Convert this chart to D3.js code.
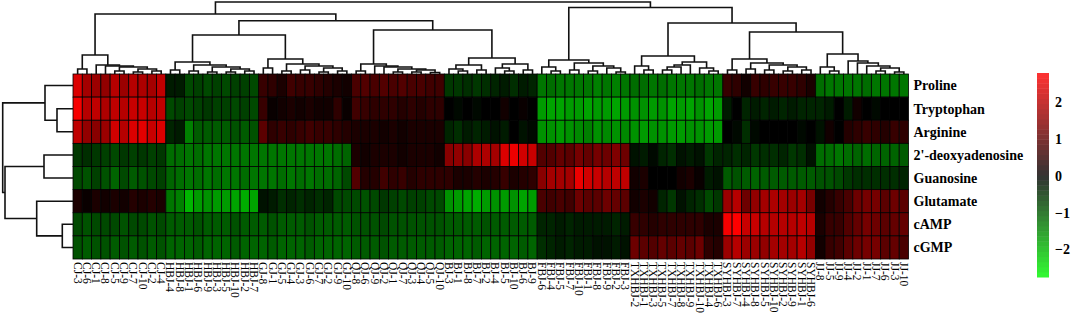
<!DOCTYPE html>
<html>
<head>
<meta charset="utf-8">
<script src="https://cdn.jsdelivr.net/npm/d3@7"></script>
<style>
  body { margin: 0; background: #fff; }
  svg { display: block; font-family: "Liberation Serif", "Times New Roman", serif; }
</style>
</head>
<body>
<div id="chart"></div>
<script>
// Clustered heatmap of metabolites across samples

const metabolites = ["Proline", "Tryptophan", "Arginine", "2'-deoxyadenosine", "Guanosine", "Glutamate", "cAMP", "cGMP"];

const samples = [
  "CJ-3", "CJ-6", "CJ-1", "CJ-8", "CJ-5", "CJ-9", "CJ-7", "CJ-10", "CJ-2", "CJ-4",
  "HBJ-4", "HBJ-8", "HBJ-1", "HBJ-6", "HBJ-9", "HBJ-3", "HBJ-5", "HBJ-10", "HBJ-2", "HBJ-7",
  "GJ-8", "GJ-1", "GJ-5", "GJ-4", "GJ-3", "GJ-6", "GJ-7", "GJ-2", "GJ-9", "GJ-10",
  "QJ-8", "QJ-6", "QJ-9", "QJ-2", "QJ-1", "QJ-7", "QJ-3", "QJ-4", "QJ-5", "QJ-10",
  "BJ-3", "BJ-1", "BJ-8", "BJ-7", "BJ-2", "BJ-4", "BJ-5", "BJ-10", "BJ-6", "BJ-9",
  "FBJ-6", "FBJ-4", "FBJ-5", "FBJ-7", "FBJ-10", "FBJ-1", "FBJ-8", "FBJ-9", "FBJ-2", "FBJ-3",
  "TXHBJ-2", "TXHBJ-1", "TXHBJ-3", "TXHBJ-5", "TXHBJ-7", "TXHBJ-8", "TXHBJ-9", "TXHBJ-10", "TXHBJ-4", "TXHBJ-6",
  "SYHBJ-3", "SYHBJ-7", "SYHBJ-4", "SYHBJ-8", "SYHBJ-5", "SYHBJ-10", "SYHBJ-2", "SYHBJ-9", "SYHBJ-1", "SYHBJ-6",
  "JJ-8", "JJ-5", "JJ-9", "JJ-4", "JJ-2", "JJ-1", "JJ-7", "JJ-6", "JJ-3", "JJ-10"
];

// scaled values, one array per metabolite, in sample order
const proline = [
  2.4, 1.8, 1.7, 1.6, 2.0, 1.7, 2.0, 1.9, 1.8, 2.1,
  -0.3, -0.3, -0.8, -0.7, -0.8, -0.7, -0.8, -0.7, -0.7, -0.8,
  0.6, 0.5, 0.3, 0.7, 0.6, 0.6, 0.5, 0.4, 0.3, 0.2,
  0.8, 0.9, 0.8, 0.9, 0.8, 0.9, 0.8, 0.8, 0.7, 0.7,
  -0.6, -0.6, -0.5, -0.6, -0.5, -0.4, -0.3, -0.5, -0.3, -0.4,
  -1.3, -1.2, -1.3, -1.3, -1.3, -1.3, -1.4, -1.3, -1.4, -1.3,
  -1.2, -1.2, -1.3, -1.2, -1.3, -1.3, -1.3, -1.2, -1.3, -1.3,
  0.6, 0.5, 0.2, 0.6, 0.5, 0.6, 0.6, 0.6, 0.5, 0.3,
  -1.2, -1.3, -1.3, -1.3, -1.3, -1.2, -1.3, -1.3, -1.3, -1.3
];
const tryptophan = [
  2.7, 2.0, 2.1, 1.9, 2.1, 2.0, 2.2, 2.2, 2.0, 2.1,
  -0.8, -0.7, -0.8, -0.7, -0.6, -0.7, -0.7, -0.8, -0.7, -0.8,
  0.6, 0.1, 0.2, 0.3, 0.2, 0.3, 0.2, 0.2, 0.5, 0.1,
  0.7, 0.6, 0.5, 0.5, 0.5, 0.4, 0.5, 0.4, 0.5, 0.5,
  0.0, -0.1, 0.0, -0.1, 0.0, 0.0, 0.2, 0.0, 0.1, 0.0,
  -1.7, -1.8, -1.8, -1.7, -1.7, -1.8, -1.7, -1.7, -1.8, -1.7,
  -1.6, -1.6, -1.7, -1.6, -1.8, -1.7, -1.8, -1.6, -1.8, -1.7,
  -0.3, 0.0, -0.4, -0.3, -0.4, -0.3, -0.4, -0.3, -0.4, -0.4,
  -0.4, -0.3, 0.0, -0.3, 0.2, 0.0, -0.1, 0.0, 0.0, 0.0
];
const arginine = [
  2.1, 1.6, 1.5, 1.7, 2.3, 2.0, 2.4, 2.5, 2.2, 2.4,
  -0.4, -0.3, -1.4, -1.0, -1.0, -1.0, -1.0, -0.9, -1.0, -0.9,
  1.0, 0.5, 0.6, 0.5, 0.6, 0.7, 0.6, 0.6, 0.5, 0.4,
  0.3, 0.3, 0.3, 0.2, 0.3, 0.2, 0.3, 0.3, 0.3, 0.3,
  -0.4, -0.5, -0.3, -0.4, -0.3, -0.2, -0.3, 0.0, -0.2, -0.1,
  -1.6, -1.6, -1.7, -1.6, -1.5, -1.4, -1.6, -1.5, -1.6, -1.5,
  -1.6, -1.7, -1.6, -1.6, -1.7, -1.7, -1.6, -1.6, -1.7, -1.7,
  0.0, -0.1, -0.5, -0.1, 0.0, 0.0, 0.0, 0.0, -0.1, 0.0,
  -0.2, 0.2, 0.0, 0.4, 0.5, 0.6, 0.5, 0.4, 0.6, 0.5
];
const deoxyadenosine = [
  -0.6, -0.5, -0.6, -0.7, -0.8, -0.6, -0.7, -0.6, -0.7, -0.6,
  -1.2, -1.2, -1.3, -1.2, -1.3, -1.3, -1.3, -1.3, -1.3, -1.3,
  -1.3, -1.3, -1.3, -1.3, -1.3, -1.3, -1.3, -1.3, -1.2, -1.1,
  0.3, 0.2, 0.3, 0.3, 0.3, 0.2, 0.3, 0.3, 0.3, 0.2,
  1.5, 1.6, 1.5, 1.9, 1.9, 1.8, 2.4, 2.6, 2.3, 2.2,
  0.9, 0.9, 1.1, 1.0, 1.3, 1.1, 1.3, 1.2, 1.4, 1.2,
  -0.2, -0.3, -0.1, -0.4, -0.5, -0.2, -0.3, -0.2, -0.6, -0.4,
  -0.4, -0.5, -0.4, -0.6, -0.5, -0.5, -0.4, -0.6, -0.5, -0.2,
  -1.2, -1.2, -1.3, -1.2, -1.1, -1.2, -1.1, -1.1, -1.1, -1.0
];
const guanosine = [
  -0.8, -0.9, -0.7, -0.9, -1.1, -0.8, -1.0, -0.9, -0.8, -0.7,
  -1.1, -1.2, -1.3, -1.2, -1.3, -1.2, -1.3, -1.3, -1.2, -1.3,
  -1.3, -1.3, -1.2, -1.3, -1.2, -1.3, -1.2, -1.2, -1.1, -0.8,
  0.9, 0.4, 0.4, 0.7, 0.5, 0.6, 0.4, 0.5, 0.5, 0.5,
  0.5, 0.3, 0.3, 0.4, 0.3, 0.4, 0.6, 0.3, 0.4, 0.5,
  1.5, 1.8, 1.8, 1.8, 2.6, 2.3, 2.2, 2.0, 2.1, 2.1,
  0.2, 0.3, 0.0, 0.0, 0.0, 0.2, 0.3, 0.1, -0.3, -0.2,
  -1.0, -0.9, -1.0, -1.1, -1.0, -1.0, -1.0, -1.0, -1.0, -1.0,
  -0.9, -0.9, -0.8, -0.6, -0.5, -0.5, -0.5, -0.5, -0.5, -0.4
];
const glutamate = [
  0.3, 0.1, 0.3, 0.2, 0.3, 0.2, 0.4, 0.3, 0.4, 0.3,
  -1.3, -1.4, -2.0, -1.7, -1.6, -1.7, -1.7, -1.8, -1.9, -1.8,
  -0.2, -0.3, -0.5, -0.4, -0.5, -0.4, -0.5, -0.4, -0.8, -0.8,
  -0.8, -0.9, -0.8, -0.6, -0.7, -0.8, -0.7, -0.7, -0.8, -0.8,
  -1.6, -1.7, -1.8, -1.9, -1.7, -1.6, -1.7, -1.6, -1.8, -1.7,
  0.8, 0.7, 0.8, 0.7, 1.2, 1.0, 1.0, 1.2, 1.1, 1.0,
  0.2, 0.3, 0.2, -0.4, -0.6, -0.2, -0.4, -0.5, -0.8, -0.6,
  1.7, 2.0, 1.2, 1.6, 1.8, 1.9, 1.8, 1.7, 1.8, 1.3,
  0.2, 0.4, 0.6, 0.8, 1.2, 1.3, 1.3, 1.0, 1.2, 1.0
];
const camp = [
  -0.8, -0.9, -0.8, -0.8, -0.8, -0.9, -0.8, -0.8, -0.9, -0.8,
  -1.0, -1.0, -1.0, -0.9, -1.0, -1.0, -1.0, -0.9, -1.0, -1.0,
  -1.0, -0.9, -1.0, -1.0, -1.0, -0.9, -1.0, -1.0, -1.0, -1.0,
  -0.9, -0.9, -0.9, -0.8, -0.9, -0.9, -0.9, -0.9, -0.9, -0.9,
  -1.0, -1.0, -1.0, -1.0, -0.9, -1.0, -1.0, -1.0, -1.0, -1.0,
  -0.4, -0.4, -0.3, -0.4, -0.3, -0.3, -0.3, -0.3, -0.4, -0.3,
  0.6, 0.5, 0.4, 0.5, 0.5, 0.5, 0.5, 0.5, 0.3, 0.3,
  2.7, 2.8, 2.2, 2.2, 2.0, 2.0, 2.0, 2.0, 2.1, 2.0,
  0.3, 0.6, 0.6, 0.9, 1.1, 1.3, 1.2, 1.0, 1.1, 1.1
];
const cgmp = [
  -0.9, -1.0, -0.9, -0.9, -1.0, -0.9, -1.0, -0.9, -1.0, -0.9,
  -1.1, -1.1, -1.1, -1.0, -1.1, -1.1, -1.1, -1.0, -1.1, -1.1,
  -1.1, -1.0, -1.1, -1.1, -1.1, -1.0, -1.1, -1.1, -1.1, -1.1,
  -1.0, -1.0, -1.0, -0.9, -1.0, -1.0, -1.0, -1.0, -1.0, -1.0,
  -1.1, -1.1, -1.1, -1.0, -1.1, -1.1, -1.1, -1.1, -1.0, -1.1,
  -0.5, -0.4, -0.3, -0.4, -0.3, -0.3, -0.2, -0.2, -0.3, -0.2,
  1.2, 1.0, 0.9, 1.1, 1.0, 1.1, 1.0, 1.2, 0.5, 0.4,
  1.7, 2.0, 1.7, 1.7, 1.6, 1.8, 1.8, 1.8, 2.0, 1.6,
  0.2, 0.6, 0.7, 1.0, 1.2, 1.3, 1.3, 1.0, 1.1, 0.8
];

const matrix = [proline, tryptophan, arginine, deoxyadenosine, guanosine, glutamate, camp, cgmp];

// dendrograms as [height, left, right]; leaves are column / row indices
const cjTree = [19, [5, 0, 1], [9, 2, [8, 3, [7, [3, 4, 5], [5, [2, 6, 7], [3, 8, 9]]]]]];
const hbjTree = [12, [4, 10, 11], [9, [3, 12, 13], [7, [2, 14, 15], [5, [2, 16, 17], [3, 18, 19]]]]];
const gjTree = [15, [6, 20, 21], [10, [3, 22, 23], [8, [4, 24, 25], [6, [2, 26, 27], [3, 28, 29]]]]];
const qjTree = [10, [3, 30, 31], [8, 32, [7, 33, [5, [2, 34, 35], [4, [2, 36, 37], [1.5, 38, 39]]]]]];
const bjTree = [16, [9, [5, 40, [3, 41, 42]], [4, 43, 44]], [10, [6, 45, [3, 46, 47]], [4, 48, 49]]];
const fbjTree = [14, [7, 50, [3, 51, 52]], [11, [4, 53, 54], [8, [3, 55, 56], [6, 57, [2, 58, 59]]]]];
const txhbjTree = [18, [8, 60, [4, 61, 62]], [12, [9, [7, [4, 63, 64], 65], 66], [6, 67, [3, 68, 69]]]];
const syhbjTree = [15, [4, 70, 71], [11, [5, 72, 73], [9, [4, 74, 75], [7, [3, 76, 77], [4, 78, 79]]]]];
const jjTree = [20, [7, 80, [3, 81, 82]], [13, 83, [11, 84, [8, 85, [6, [3, 86, 87], [2, 88, 89]]]]]];

const colTree = [72,
  [60, cjTree, [53.3, [39, hbjTree, gjTree], [44, qjTree, bjTree]]],
  [66.5, fbjTree, [51, txhbjTree, [42, syhbjTree, jjTree]]]
];
const rowTree = [70.3, [28, 0, [16, 1, 2]], [68, [29, 3, 4], [36.3, 5, [10.7, 6, 7]]]];

const legendTicks = [-2, -1, 0, 1, 2];

const width = 1072, height = 318;
const svg = d3.select("#chart").append("svg")
  .attr("width", width)
  .attr("height", height);

const heat = {left: 73, right: 908.5, top: 74, bottom: 259};

const x = d3.scaleBand()
  .domain(d3.range(samples.length))
  .range([heat.left, heat.right]);

const y = d3.scaleBand()
  .domain(d3.range(metabolites.length))
  .range([heat.top, heat.bottom]);

const color = d3.scaleLinear()
  .domain([-2.8, 0, 2.8])
  .range(["#00ff00", "#000000", "#ff0000"])
  .clamp(true);

// cells
const cells = [];
matrix.forEach((row, r) => row.forEach((v, c) => cells.push({r, c, v})));

svg.append("g")
  .selectAll("rect")
  .data(cells)
  .join("rect")
  .attr("x", d => x(d.c))
  .attr("y", d => y(d.r))
  .attr("width", x.bandwidth())
  .attr("height", y.bandwidth())
  .attr("fill", d => color(d.v))
  .attr("stroke", "#000")
  .attr("stroke-width", 0.8);

// dendrogram helpers
const toNode = a => Array.isArray(a)
  ? {h: a[0], children: [toNode(a[1]), toNode(a[2])]}
  : {h: 0, leaf: a};

function drawTree(tree, leafPos, hScale, horizontal) {
  const root = d3.hierarchy(toNode(tree));
  root.eachAfter(n => {
    n.pos = n.children
      ? (n.children[0].pos + n.children[1].pos) / 2
      : leafPos(n.data.leaf);
  });
  const path = n => {
    const [a, b] = n.children;
    if (horizontal) {
      return `M${a.pos},${hScale(a.data.h)}V${hScale(n.data.h)}H${b.pos}V${hScale(b.data.h)}`;
    }
    return `M${hScale(a.data.h)},${a.pos}H${hScale(n.data.h)}V${b.pos}H${hScale(b.data.h)}`;
  };
  svg.append("g")
    .selectAll("path")
    .data(root.descendants().filter(n => n.children))
    .join("path")
    .attr("d", path)
    .attr("fill", "none")
    .attr("stroke", "#111")
    .attr("stroke-width", 1.6);
}

const colH = d3.scaleLinear().domain([0, 72]).range([heat.top, 2]);
drawTree(colTree, i => x(i) + x.bandwidth() / 2, colH, true);

const rowH = d3.scaleLinear().domain([0, 71]).range([heat.left, 2]);
drawTree(rowTree, i => y(i) + y.bandwidth() / 2, rowH, false);

// row labels
svg.append("g")
  .selectAll("text")
  .data(metabolites)
  .join("text")
  .attr("x", heat.right + 5)
  .attr("y", (d, i) => y(i) + y.bandwidth() / 2)
  .attr("dy", "0.35em")
  .attr("font-size", 14)
  .attr("font-weight", "bold")
  .text(d => d);

// column labels, rotated
svg.append("g")
  .selectAll("text")
  .data(samples)
  .join("text")
  .attr("transform", (d, i) => `translate(${x(i) + x.bandwidth() / 2},${heat.bottom + 3}) rotate(90)`)
  .attr("dy", "0.35em")
  .attr("font-size", 11.5)
  .text(d => d);

// colour key
const keyY = d3.scaleLinear().domain([-2.75, 2.8]).range([277, 73]);
const steps = d3.range(40).map(i => -2.75 + i * 5.55 / 40);
const key = svg.append("g").attr("opacity", 0.8);
key.selectAll("rect")
  .data(steps)
  .join("rect")
  .attr("x", 1037)
  .attr("width", 12)
  .attr("y", d => keyY(d + 5.55 / 40))
  .attr("height", d => keyY(d) - keyY(d + 5.55 / 40) + 0.5)
  .attr("fill", d => color(d + 5.55 / 80));

svg.append("g")
  .attr("transform", "translate(1049,0)")
  .call(d3.axisRight(keyY).tickValues(legendTicks).tickFormat(d3.format("d")).tickSize(0).tickPadding(6))
  .call(g => g.select(".domain").remove())
  .call(g => g.selectAll("text")
    .attr("font-family", "'Liberation Serif', 'Times New Roman', serif")
    .attr("font-size", 14)
    .attr("font-weight", "bold"));
</script>
</body>
</html>
